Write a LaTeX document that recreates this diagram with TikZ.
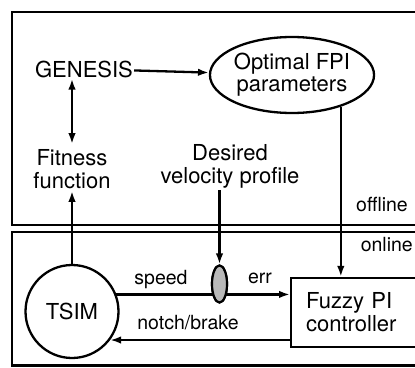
\documentclass[tikz,border=0pt]{standalone}
\usepackage{fontspec}
\setmainfont{TeX Gyre Heros}
\usetikzlibrary{arrows.meta,shapes.geometric}

\begin{document}
\begin{tikzpicture}[x=1pt,y=-1pt,
  every node/.style={inner sep=2pt},
  big/.style={font=\fontsize{22}{23}\selectfont, align=center},
  small/.style={font=\fontsize{19.5}{21}\selectfont},
  wire/.style={line width=2.3pt},
  tip/.tip={Latex[length=11pt,width=7.5pt]},
  arr/.style={wire,-tip},
  frame/.style={draw,line width=2.2pt},
  junction/.style={draw,ellipse,line width=2.2pt,fill=gray!55,minimum width=15,minimum height=37,inner sep=0pt}]
\useasboundingbox (0,0) rectangle (415,367);
\clip (0,0) rectangle (415,367);

% offline / online frames (open to the right)
\draw[frame] (440,12) -- (12,12) -- (12,225) -- (440,225);
\draw[frame] (440,232) -- (12,232) -- (12,365.5) -- (440,365.5);
\node[small,anchor=east] (offl) at (410,205) {offline};
\node[small,anchor=east] (onl) at (415,245) {online};

% offline part
\node[big,inner sep=1pt] (gen) at (84,69) {GENESIS};
\node[big,draw,ellipse,line width=2.3pt,minimum width=160,minimum height=76,inner sep=0pt] (opt) at (292,75) {Optimal FPI\\[-1pt]parameters};
\node[big] (fit) at (72,169) {Fitness\\function};
\node[big] (des) at (230,166) {Desired\\velocity profile};

% online part
\node[big,draw,circle,line width=2.3pt,minimum size=93,inner sep=0pt] (tsim) at (72,311.5) {TSIM};
\node[junction] (sum) at (219.5,284) {};
\node[big,draw,line width=2.3pt,anchor=west,minimum height=69,text width=120pt,inner xsep=15pt,align=left] (fpi) at (290,312.5) {Fuzzy PI\\controller};

% connectors
\draw[arr] (gen) -- (opt);
\draw[wire,tip-tip] (fit.north -| 72,0) ++(0,-3) coordinate (fa) -- (fa |- gen.south);
\draw[arr] (tsim.north) -- (tsim.north |- fit.south);
\draw[arr] (sum.north |- des.south) -- (sum.north);
\draw[arr] (opt.-33) -- (opt.-33 |- fpi.north);
\draw[arr] (tsim.21) -- (tsim.21 -| fpi.west);
\draw[arr] (fpi.west |- 0,340) coordinate (nb) -- (nb -| tsim.-37);
\node[junction] at (sum) {};

% signal labels
\node[small] (lspeed) at (161,280) {speed};
\node[small] (lerr) at (260,278) {err};
\node[small] (lnb) at (188,323) {notch/brake};
\end{tikzpicture}
\end{document}
